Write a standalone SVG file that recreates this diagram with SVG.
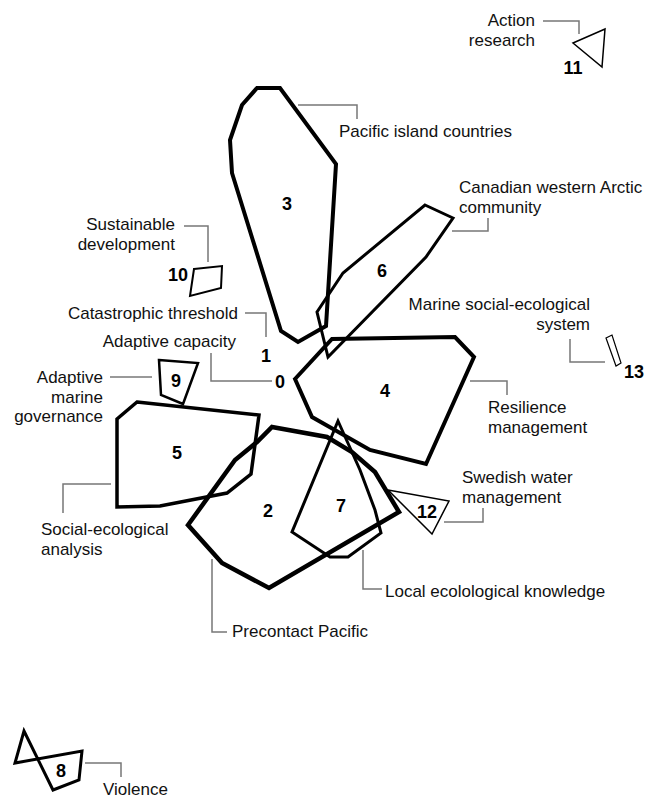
<svg xmlns="http://www.w3.org/2000/svg" width="656" height="799" viewBox="0 0 656 799">
<style>
  .shape { fill: none; stroke: #000; stroke-linejoin: miter; }
  .lbl { font-family: "Liberation Sans", Arial, sans-serif; font-size: 17px; fill: #111; }
  .num { font-family: "Liberation Sans", Arial, sans-serif; font-size: 18px; font-weight: bold; fill: #000; text-anchor: middle; }
  .end { text-anchor: end; }
  .conn { fill: none; stroke: #777; stroke-width: 1.5; }
</style>
<rect width="656" height="799" fill="#fff"/>
<g id="connectors">
  <path class="conn" d="M298,105 H357 V119"/>
  <path class="conn" d="M452,231 H488 V218"/>
  <path class="conn" d="M543,21 H579 V34"/>
  <path class="conn" d="M570,339 V362 H605"/>
  <path class="conn" d="M184,226 H208 V262"/>
  <path class="conn" d="M245,313 H266 V337"/>
  <path class="conn" d="M211,353 V381 H272"/>
  <path class="conn" d="M110,377 H152"/>
  <path class="conn" d="M111,484 H63 V513"/>
  <path class="conn" d="M212,559 V632 H227"/>
  <path class="conn" d="M470,381 H507 V395"/>
  <path class="conn" d="M363,550 V589 H382"/>
  <path class="conn" d="M444,522 H483 V508"/>
  <path class="conn" d="M85,763 H121 V777"/>
</g>
<g id="node-0">
  <text class="num" x="280" y="388">0</text>
  <text class="lbl end" x="236" y="347">Adaptive capacity</text>
</g>
<g id="node-1">
  <text class="num" x="266" y="362">1</text>
  <text class="lbl end" x="238" y="319">Catastrophic threshold</text>
</g>
<g id="node-2">
  <polygon class="shape" stroke-width="4.5" points="272,427 327,437 352,452 375,472 399,512 269,588 222,563 188,525 235,460 257,442"/>
  <text class="num" x="268" y="517">2</text>
  <text class="lbl" x="232" y="637">Precontact Pacific</text>
</g>
<g id="node-3">
  <polygon class="shape" stroke-width="4" points="257,88 280,88 336,164 326,326 298,342 281,331 232,173 230,140 242,105"/>
  <text class="num" x="287" y="210">3</text>
  <text class="lbl" x="339" y="137">Pacific island countries</text>
</g>
<g id="node-4">
  <polygon class="shape" stroke-width="4" points="295,379 332,339 455,337 474,357 426,464 370,450 312,417"/>
  <text class="num" x="385" y="397">4</text>
  <text class="lbl" x="488" y="413">Resilience</text>
  <text class="lbl" x="488" y="433">management</text>
</g>
<g id="node-5">
  <polygon class="shape" stroke-width="3.5" points="137,402 259,415 251,474 227,493 160,506 117,507 117,419"/>
  <text class="num" x="177" y="459">5</text>
  <text class="lbl" x="41" y="535">Social-ecological</text>
  <text class="lbl" x="41" y="555">analysis</text>
</g>
<g id="node-6">
  <polygon class="shape" stroke-width="3" points="425,205 453,218 426,257 328,357 317,312 343,273"/>
  <text class="num" x="382" y="277">6</text>
  <text class="lbl" x="459" y="193">Canadian western Arctic</text>
  <text class="lbl" x="459" y="213">community</text>
</g>
<g id="node-7">
  <polygon class="shape" stroke-width="3" points="338,421 360,470 375,510 381,533 348,557 330,557 292,532"/>
  <text class="num" x="341" y="512">7</text>
  <text class="lbl" x="385" y="597">Local ecolological knowledge</text>
</g>
<g id="node-8">
  <polygon class="shape" stroke-width="3" points="24,731 53,790 79,780 82,751 15,763"/>
  <text class="num" x="61" y="777">8</text>
  <text class="lbl" x="103" y="795">Violence</text>
</g>
<g id="node-9">
  <polygon class="shape" stroke-width="2.5" points="159,360 198,363 183,404 161,395"/>
  <text class="num" x="176" y="387">9</text>
  <text class="lbl end" x="103" y="383">Adaptive</text>
  <text class="lbl end" x="103" y="403">marine</text>
  <text class="lbl end" x="103" y="422">governance</text>
</g>
<g id="node-10">
  <polygon class="shape" stroke-width="2" points="194,269 222,266 221,288 190,296"/>
  <text class="num" x="178" y="281">10</text>
  <text class="lbl end" x="175" y="230">Sustainable</text>
  <text class="lbl end" x="175" y="250">development</text>
</g>
<g id="node-11">
  <polygon class="shape" stroke-width="1.5" points="573,43 605,29 602,67"/>
  <text class="num" x="573" y="74">11</text>
  <text class="lbl end" x="535" y="26">Action</text>
  <text class="lbl end" x="535" y="46">research</text>
</g>
<g id="node-12">
  <polygon class="shape" stroke-width="1.5" points="388,490 449,501 432,534"/>
  <text class="num" x="427" y="518">12</text>
  <text class="lbl" x="462" y="483">Swedish water</text>
  <text class="lbl" x="462" y="503">management</text>
</g>
<g id="node-13">
  <polygon class="shape" stroke-width="1.2" points="606,338 612,335 621,363 616,366"/>
  <text class="num" x="634" y="378">13</text>
  <text class="lbl end" x="590" y="310">Marine social-ecological</text>
  <text class="lbl end" x="590" y="330">system</text>
</g>
</svg>
